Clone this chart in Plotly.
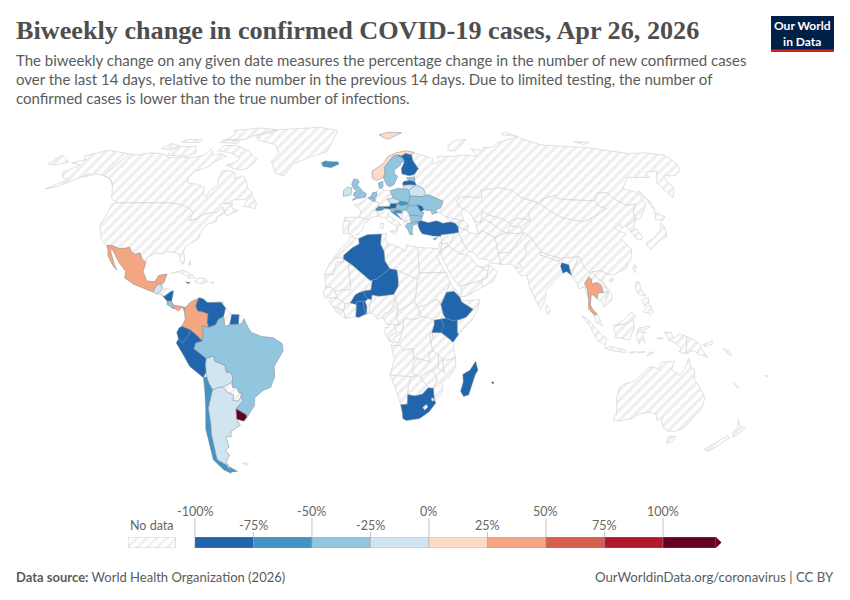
import numpy as np
import plotly.graph_objects as go

# Country outlines as (lon, lat). The topojson that
# plotly's geo traces need is on a CDN, so the map is drawn with filled scatters.
canada = [(-141,69.6),(-135,69),(-128,70),(-120,69.5),(-115,68),(-108,68),(-100,68),(-95,69),(-94,72),(-90,69),(-85,69.5),(-81,68.5),(-86,66),(-87,64),(-93,62),(-94.5,59),(-92.5,57),(-88,56.5),(-82.5,55),(-82,52.8),(-79.5,51.3),(-79,54),(-76.5,56.5),(-78,59),(-78,62.3),(-73,62),(-70,61),(-69.5,58.8),(-65,60),(-62,57.5),(-60,55),(-56,52.5),(-59,50.3),(-65,50.2),(-69,48.5),(-65,49),(-64.5,47),(-61,46),(-64,44.5),(-66,44),(-67,45),(-69,47.3),(-71,45.3),(-75,45),(-79,43.5),(-79,42.8),(-83,42),(-82.5,45),(-84.5,46.5),(-89,48),(-95,49),(-123,49),(-127,51),(-130,54.5),(-133,57),(-137,59),(-141,60)]
usa = [(-123,49),(-95,49),(-89,48),(-84.5,46.5),(-82.5,45),(-83,42),(-79,42.8),(-79,43.5),(-75,45),(-71,45.3),(-69,47.3),(-67,45),(-70,43.5),(-70,41.7),(-74,40.6),(-76,37),(-75.5,35.3),(-78,33.9),(-81,32),(-81.3,30),(-80,26.8),(-80.5,25.2),(-82,26.5),(-83,29),(-85,29.7),(-89,30.2),(-90,29.2),(-94,29.6),(-97.2,27.7),(-97.2,25.9),(-99.5,27.5),(-101,29.7),(-103,29),(-104.7,30),(-106.5,31.8),(-108.2,31.4),(-111,31.3),(-114.8,32.5),(-117.1,32.5),(-120.5,34.5),(-122.4,37.5),(-124.3,40.3),(-124,46),(-124.7,48.4)]
alaska = [(-141,69.6),(-141,60),(-137,59),(-133,57),(-131,55.5),(-135,58.2),(-140,59.8),(-146,60.8),(-151,59.5),(-150,61),(-154,58.5),(-160,55.5),(-165,54.5),(-158,58.5),(-162,59),(-166,61.5),(-161,64.5),(-168,65.6),(-162,67),(-166,68.5),(-156.5,71.2),(-148,70.3)]
baffin = [(-80,73.5),(-72,71.5),(-68,70),(-62,67),(-65,63),(-70,62.5),(-78,64.5),(-73,66),(-73,68),(-80,70),(-89,71),(-88,73.5)]
victoria_isl = [(-117,69),(-105,68.5),(-101,70),(-105,73),(-115,73),(-118,71)]
ellesmere = [(-90,76.5),(-78,76.5),(-75,78.5),(-62,82),(-75,83),(-92,81.5),(-88,79)]
banks_isl = [(-125,72),(-120,71.5),(-116,73.5),(-123,74.5)]
devon_isl = [(-92,75),(-80,74.5),(-80,75.7),(-92,76.5)]
melville_isl = [(-117,75),(-105,75),(-106,76.5),(-116,76.5)]
newfoundland = [(-59,47.7),(-53,46.7),(-53,49),(-56,51.5),(-58,50)]
greenland = [(-73,78.2),(-60,82),(-32,83.5),(-18,81.5),(-20,75),(-22,70.5),(-32,68),(-40,65),(-43,60),(-48,61),(-53,66),(-51,70),(-56,74),(-68,76)]
chukotka_east = [(-180,69),(-170,66),(-175,64.5),(-180,65)]
mexico = [(-117.1,32.5),(-114.8,32.5),(-111,31.3),(-108.2,31.4),(-106.5,31.8),(-104.7,30),(-103,29),(-101,29.7),(-99.5,27.5),(-97.2,25.9),(-97.8,22.5),(-95.5,18.8),(-92,18.6),(-90.5,21),(-87,21.5),(-87.8,18.3),(-89,17.9),(-91,17.2),(-92.2,14.6),(-96,15.8),(-101,17.5),(-105.5,20),(-105.5,22.5),(-109,25.6),(-112.8,30),(-114.7,31.7),(-114.2,30),(-111,25),(-109.5,23),(-112,25),(-115,28.5),(-116,31)]
guatemala = [(-92.2,14.6),(-91,17.2),(-89.2,17.8),(-88.3,15.7),(-89.3,14.4),(-90.5,13.8)]
belize = [(-89.2,17.8),(-88.2,18.4),(-88.3,16),(-89.2,15.9)]
honduras = [(-89.3,14.4),(-88.3,15.7),(-86,15.9),(-83.2,15),(-84.5,14.7),(-87,13),(-87.7,13.3)]
el_salvador = [(-90,13.7),(-89.3,14.4),(-87.7,13.3),(-88,13.2)]
nicaragua = [(-87.7,13),(-87,13),(-84.5,14.7),(-83.2,15),(-83.7,11),(-85.7,11.1)]
costa_rica = [(-85.7,11.1),(-83.7,11),(-82.6,9.5),(-83,8.3),(-85.7,9.9)]
panama = [(-83,8.3),(-82.6,9.5),(-80,9.2),(-77.4,8.7),(-77.9,7.2),(-79,8.8),(-80.4,7.3),(-81.7,8)]
cuba = [(-85,21.8),(-80,23),(-75,20.8),(-74.3,20),(-77.5,19.9),(-78,20.7),(-82,22.4)]
hispaniola = [(-74.4,18.5),(-73,19.9),(-69.9,19.8),(-68.4,18.6),(-71.5,17.7)]
jamaica = [(-78.3,18.4),(-76.3,18.2),(-77,17.8)]
puerto_rico = [(-67.2,18.4),(-65.7,18.3),(-66.5,17.9)]
bahamas = [(-78.2,25),(-77.5,26.7),(-77,25)]
trinidad = [(-61.8,10.7),(-60.9,10.8),(-61,10.1)]
colombia = [(-71.7,12.4),(-72.5,11),(-73,9),(-72,7.3),(-70,7),(-67.5,6.2),(-67.8,2.8),(-67,1),(-70,1.5),(-69.5,-1),(-70,-4.2),(-72,-2.3),(-75,0),(-78.8,1.4),(-77.4,4),(-77.9,7.2),(-77.4,8.7),(-75.5,10.7)]
venezuela = [(-71.7,12.4),(-70,12),(-68,10.6),(-62,10.7),(-60,8.5),(-60.7,5.2),(-63,4),(-64,2),(-67,1),(-67.8,2.8),(-67.5,6.2),(-70,7),(-72,7.3),(-73,9),(-72.5,11)]
guyana = [(-60,8.5),(-57.2,6),(-58,2),(-60,1.3),(-60.7,5.2)]
suriname = [(-57.2,6),(-54,5.9),(-54.2,2.2),(-58,2)]
french_guiana = [(-54,5.9),(-51.7,4.2),(-52.8,2.3),(-54.2,2.2)]
brazil = [(-51.7,4.2),(-50,1),(-48.5,-1),(-44,-2.5),(-39,-3),(-35.2,-5.2),(-34.8,-8),(-37,-11),(-39,-14),(-39,-18),(-41,-22),(-44.5,-23.2),(-48.5,-26),(-49,-29),(-52,-32),(-53.4,-33.7),(-53.4,-32.5),(-57.6,-30.2),(-54,-27.2),(-54.6,-25.6),(-54.3,-24),(-55.5,-24),(-56,-22.2),(-58,-22),(-58,-20),(-57.5,-18),(-58.3,-16.3),(-60.2,-16.3),(-60.5,-13.7),(-65,-12),(-65.3,-10),(-68.5,-11),(-73.8,-7.2),(-72.9,-5),(-70,-4.2),(-69.5,-1),(-70,1.5),(-67,1),(-64,2),(-63,4),(-60.7,5.2),(-60,1.3),(-58,2),(-54.2,2.2),(-52.8,2.3)]
peru = [(-70,-4.2),(-72.9,-5),(-73.8,-7.2),(-68.5,-11),(-69,-13),(-69,-16),(-70.4,-18.3),(-76,-14),(-78.5,-9.5),(-81.3,-5),(-80.3,-3.4),(-78.5,-5),(-75.5,-1.5),(-75,0),(-72,-2.3)]
ecuador = [(-75,0),(-75.5,-1.5),(-78.5,-5),(-80.3,-3.4),(-81,-1),(-80,0.8),(-78.8,1.4)]
bolivia = [(-68.5,-11),(-65.3,-10),(-65,-12),(-60.5,-13.7),(-60.2,-16.3),(-58.3,-16.3),(-57.5,-18),(-58,-20),(-62.5,-22),(-64,-22),(-67,-23),(-68.5,-20),(-69,-18),(-69,-16),(-69,-13)]
paraguay = [(-58,-20),(-58,-22),(-56,-22.2),(-55.5,-24),(-54.3,-24),(-54.6,-25.6),(-56,-27.3),(-58.5,-27),(-57.8,-25),(-60,-24),(-62.5,-22)]
uruguay = [(-57.6,-30.2),(-53.4,-32.5),(-53.4,-33.7),(-55,-35),(-58.2,-34.2)]
chile = [(-70.4,-18.3),(-69,-18),(-68.5,-20),(-67,-23),(-70,-30),(-70.5,-36),(-71.5,-40),(-72,-45),(-73,-50),(-69.5,-52),(-68.5,-54.9),(-69,-55.5),(-72,-54),(-75,-50),(-74,-44),(-73.5,-38),(-71.5,-31),(-70.5,-24)]
argentina = [(-64,-22),(-62.5,-22),(-60,-24),(-57.8,-25),(-58.5,-27),(-56,-27.3),(-54.6,-25.6),(-54,-27.2),(-57.6,-30.2),(-58.2,-34.2),(-57,-36.5),(-62,-39),(-62.5,-41),(-65,-41),(-65,-45),(-67.5,-46.5),(-66,-48),(-69,-51),(-68.5,-52.3),(-69.5,-52),(-73,-50),(-72,-45),(-71.5,-40),(-70.5,-36),(-70,-30),(-67,-23)]
tierra_del_fuego = [(-68.6,-52.7),(-65.2,-54.7),(-68.6,-54.9)]
falklands = [(-61,-51.5),(-58,-51.3),(-59,-52.3)]

morocco = [(-5.9,35.8),(-2,35.1),(-1.7,33),(-5,31.5),(-8.7,28.7),(-8.7,27.7),(-13.2,27.7),(-9.8,31.5),(-6.8,34.2)]
western_sahara = [(-13.2,27.7),(-8.7,27.7),(-8.7,26),(-12,26),(-13,21.3),(-17,21.3),(-16,23.7),(-14.5,26.2)]
algeria = [(-2,35.1),(2,36.6),(8.6,36.9),(8,33),(9.5,30.2),(9.8,26.5),(11.9,23.5),(5.8,19.4),(3.2,19),(-4.8,25),(-8.7,27.3),(-8.7,28.7),(-5,31.5),(-1.7,33)]
tunisia = [(8.6,36.9),(11,37),(10.3,34.5),(11.5,33),(9.5,30.2),(8,33)]
libya = [(11.5,33),(15,32.3),(19.5,30.5),(20,32.7),(25,31.7),(25,20),(24,19.5),(15,23),(11.9,23.5),(9.8,26.5),(9.5,30.2)]
egypt = [(25,31.7),(31,31.5),(34.2,31.3),(34.8,29.5),(33.5,28),(35.5,24),(37,22),(25,22)]
sudan = [(25,22),(37,22),(38.5,18),(36.5,14.3),(34.5,10.5),(32.5,11.8),(27,9.5),(24,8.7),(22.5,11),(23.5,15.5),(24,19.5),(25,20)]
south_sudan = [(24,8.7),(27,9.5),(32.5,11.8),(34,10),(35,6),(34,4.2),(31,3.7),(27.5,5),(25,5)]
eritrea = [(36.5,14.3),(38.5,18),(43,12.7),(40,14.8),(37,14.5)]
ethiopia = [(36.5,14.3),(37,14.5),(40,14.8),(42.5,12.5),(43,11),(42.8,10.9),(48,8),(45,5),(42,4),(39.5,3.5),(36,4.5),(35,6),(34,10),(34.5,10.5)]
somalia = [(43,11),(51.2,11.8),(50,8),(47.5,4),(41.6,-1.7),(41,-1),(41,3.9),(42,4),(45,5),(48,8),(42.8,10.9)]
kenya = [(34,4.2),(36,4.5),(39.5,3.5),(41,3.9),(41,-1),(41.6,-1.7),(39.2,-4.7),(37.7,-3.5),(34,-1),(34,1),(35,1.5)]
uganda = [(31,3.7),(34,4.2),(35,1.5),(34,-1),(30,-1),(31,2)]
tanzania = [(30,-1),(34,-1),(37.7,-3.5),(39.2,-4.7),(39.5,-7),(40.4,-10.5),(37,-11.6),(34.9,-11.5),(33,-9.5),(30.5,-8),(29.5,-5),(30.5,-2.5)]
rwanda_burundi = [(29,-1.4),(30,-1),(30.5,-2.5),(29.5,-5),(29.3,-4.3)]
dr_congo = [(12.3,-6),(13,-4.7),(15.5,-4.5),(17,-1),(17.8,3.5),(18.5,4.5),(22.5,4),(25,5),(27.5,5),(31,3.7),(31,2),(30,-1),(29,-1.4),(29.3,-4.3),(29.5,-5),(30.5,-8),(28.5,-9),(29.5,-12.2),(27.5,-11.8),(24,-11),(22,-11),(21.8,-7),(17.5,-8),(16.5,-6)]
congo = [(11.2,-4),(13,-4.7),(15.5,-4.5),(17,-1),(17.8,3.5),(16,2),(13.5,2.2),(14.5,-1),(11.5,-2.5)]
gabon = [(9.3,-1),(9.8,1),(11.3,1),(11.3,2.3),(13.5,2.2),(14.5,-1),(11.5,-2.5),(11.2,-4)]
cameroon = [(8.5,4.8),(9.8,3),(9.8,2.3),(13.5,2.2),(16,2),(14.5,5),(15,9),(14.2,12.5),(13,9),(11,6.8),(9.5,6.4)]
nigeria = [(2.7,6.4),(4.5,6.3),(6,4.3),(8.5,4.8),(9.5,6.4),(11,6.8),(13,9),(14.2,12.5),(13.5,13.7),(10,13.3),(7,13),(4,13.5),(3.6,11.7),(2.8,9)]
niger = [(0.2,14.9),(3.5,15.4),(4.2,19.2),(5.8,19.4),(11.9,23.5),(15,23),(15.5,20),(15.5,16.9),(13.5,13.7),(10,13.3),(7,13),(4,13.5),(3.6,11.7),(2.2,12),(1,13)]
chad = [(15,23),(24,19.5),(23.5,15.5),(22.5,11),(19,9),(15.5,7.5),(15,9),(14.2,12.5),(13.5,13.7),(15.5,16.9),(15.5,20)]
central_african_rep = [(15.5,7.5),(19,9),(22.5,11),(24,8.7),(25,5),(22.5,4),(18.5,4.5),(16,2),(14.5,5)]
benin = [(1.6,6.2),(2.7,6.4),(2.8,9),(3.6,11.7),(2.2,12),(0.9,11),(1.6,9)]
togo = [(1.2,6.1),(1.6,6.2),(1.6,9),(0.9,11),(0,11),(0.5,8)]
ghana = [(-3.1,5.1),(-2,4.8),(1.2,6.1),(0.5,8),(0,11),(-2.8,11),(-2.8,9.8),(-3.2,6.5)]
burkina_faso = [(-5.5,10.4),(-2.8,9.8),(-2.8,11),(0,11),(0.9,11),(2.2,12),(1,13),(0.2,14.9),(-2,14.2),(-3.5,13.4),(-4.5,12)]
mali = [(-12.2,14.8),(-11.5,12.3),(-8,10.2),(-5.5,10.4),(-4.5,12),(-3.5,13.4),(-2,14.2),(0.2,14.9),(3.5,15.4),(4.2,19.2),(3.2,19),(-4.8,25),(-6.5,25),(-5.5,15.5),(-10,15.4)]
mauritania = [(-17,21.3),(-13,21.3),(-12,26),(-8.7,26),(-8.7,27.3),(-4.8,25),(-6.5,25),(-5.5,15.5),(-10,15.4),(-12.2,14.8),(-14,16.5),(-16.5,16.2)]
senegal = [(-16.5,16.2),(-14,16.5),(-12.2,14.8),(-11.5,12.4),(-16.7,12.4),(-17.5,14.7)]
guinea = [(-15,11),(-13.3,9.1),(-11,8.6),(-10.5,8),(-8,8),(-8,10.2),(-11.5,12.3),(-13.5,12.5)]
sierra_leone = [(-13.3,9.1),(-11,8.6),(-10.5,8),(-11.5,6.9)]
liberia = [(-11.5,6.9),(-10.5,8),(-8.5,7.5),(-7.5,4.4)]
cote_divoire = [(-7.5,4.4),(-8.5,7.5),(-8,8),(-8,10.2),(-5.5,10.4),(-2.8,9.8),(-3.2,6.5),(-3.1,5.1)]
angola = [(12.3,-6),(16.5,-6),(17.5,-8),(21.8,-7),(22,-11),(24,-11),(22,-13),(22,-16.5),(23.4,-17.6),(21,-18),(14,-17.4),(11.8,-17.3),(13.8,-11),(13,-9)]
zambia = [(22,-13),(24,-11),(27.5,-11.8),(29.5,-12.2),(28.5,-9),(30.5,-8),(33,-9.5),(33,-13.5),(30.3,-15.5),(28.5,-16),(25.5,-17.8),(23.4,-17.6),(22,-16.5)]
malawi = [(33,-9.5),(34.9,-11.5),(35.8,-16.5),(33,-14.5),(33,-13.5)]
mozambique = [(40.4,-10.5),(37,-11.6),(34.9,-11.5),(35.8,-16.5),(33,-14.5),(30.3,-15.5),(32.8,-18.5),(31.3,-22.4),(32,-26.8),(32.9,-26.8),(35.5,-24),(35,-20),(39,-17),(40.7,-14)]
zimbabwe = [(25.5,-17.8),(28.5,-16),(30.3,-15.5),(32.8,-18.5),(31.3,-22.4),(29,-22.2),(26,-19)]
botswana = [(20,-22),(21,-18),(23.4,-17.6),(25.5,-17.8),(26,-19),(29,-22.2),(26.5,-24.7),(23,-25.3),(20,-24.8)]
namibia = [(11.8,-17.3),(14,-17.4),(21,-18),(20,-22),(20,-28.5),(17,-28.7),(14.5,-22.5)]
south_africa = [(17,-28.7),(20,-28.5),(20,-24.8),(23,-25.3),(26.5,-24.7),(29,-22.2),(31.3,-22.4),(32,-26.8),(32.8,-28),(30,-31.5),(26,-34),(20,-34.8),(18.3,-34),(18,-32)]
lesotho = [(27.1,-29.7),(28.6,-28.7),(29.3,-29.6),(28,-30.6)]
eswatini = [(31,-26),(32,-26.8),(31.3,-27.3),(30.8,-26.8)]
madagascar = [(49.3,-12),(50.5,-15.5),(49.5,-17),(47.2,-24.9),(45,-25.5),(43.5,-23.5),(44.4,-20),(44,-17),(47,-15.5)]
mauritius = [(57.3,-19.8),(58,-20.2),(57.5,-20.8),(57,-20.2)]

iceland = [(-24,65.5),(-22,66.4),(-18,66),(-14.6,66),(-13.7,65),(-18,63.5),(-22.5,63.9)]
ireland = [(-10,54),(-8.2,55.3),(-6,55),(-6,52.2),(-10,51.6)]
uk = [(-5,58.6),(-3,58.6),(-2,57.5),(-3,56),(-1.5,55),(0,53.5),(1.7,52.7),(1.3,51.2),(-3,50.7),(-5.5,50),(-3.5,51.4),(-5,52),(-4.5,53.2),(-3,53.5),(-5,54.8),(-6,56.5)]
norway = [(5,59),(7.5,58),(10.5,59.2),(12.2,61),(12,63.5),(14,65),(15.5,66.5),(18,68.5),(20.5,69),(23,68.6),(25.7,69.7),(29,69),(31,70.3),(26,71),(20,70),(15,68.5),(12,65.5),(8,63.4),(5,62)]
sweden = [(11,59),(12.7,56),(14.3,55.5),(16.5,56.5),(18.8,59.8),(17.2,61),(17.5,62.5),(21.3,64.5),(22,65.8),(24,66),(23.5,67.8),(20.5,69),(18,68.5),(15.5,66.5),(14,65),(12,63.5),(12.2,61)]
finland = [(23,68.6),(20.5,69),(23.5,67.8),(24,66),(21.5,63),(21.3,60.8),(25,60),(28,60.5),(31,63),(29,66.5),(29,69),(25.7,69.7)]
svalbard = [(11,79),(15,77),(17,76.7),(22,78.5),(27,80),(18,80.3)]
denmark = [(8.1,57),(10.6,57.7),(10.5,55.5),(9.5,54.8),(8.5,54.9)]
estonia = [(23.5,59.2),(28,59.5),(27.5,57.6),(24.5,58)]
latvia = [(21,57),(22,57.7),(24.5,58),(27.5,57.6),(28,56.1),(25,56.3),(21,56)]
lithuania = [(21,56),(25,56.3),(26.7,55.5),(25.5,54),(23.5,54),(21,55.2)]
belarus = [(23.5,53.9),(26.7,55.5),(28,56.1),(31,55),(32,53),(30,51.5),(24,51.7)]
poland = [(14.2,53.9),(18.5,54.8),(23,54.4),(23.5,53.9),(24,51.7),(22.7,49.1),(18.8,49.6),(15,51)]
portugal = [(-9,42),(-6.3,42),(-7,37.2),(-9,37),(-9.5,38.8)]
spain = [(-9,43.3),(-1.8,43.4),(3.2,42.4),(0.5,40.6),(-0.3,38.8),(-2,36.8),(-5.5,36),(-7,37.2),(-6.3,42),(-9,42)]
france = [(-1.8,43.4),(-1,46),(-4.7,48.3),(-1.5,48.7),(2.5,51),(4.2,50),(8.2,49),(7.5,47.5),(6,46.3),(7.5,43.8),(3.2,43.2),(3.2,42.4)]
belgium = [(2.5,51),(4,51.4),(6,50.8),(6,49.5),(4.2,50)]
netherlands = [(4,51.4),(4.8,53),(7,53.4),(7,52),(6,50.8)]
germany = [(7,53.4),(8.5,54.9),(9.5,54.8),(11,54),(14.2,53.9),(15,51),(12.2,50.3),(13.8,48.7),(13,47.5),(7.5,47.5),(8.2,49),(6,49.5),(6,50.8),(7,52)]
switzerland = [(6,46.3),(7.5,47.5),(9.6,47.5),(10.4,46.6),(8.5,46),(7,45.9)]
austria = [(9.6,47.5),(13,47.5),(13.8,48.7),(17,48.8),(16.2,46.9),(13,46.6),(10.4,46.9)]
italy = [(7.5,43.8),(7,45.9),(8.5,46),(10.4,46.6),(13,46.6),(13.7,45.7),(12.3,45),(12.5,44),(16,41.8),(18.5,40),(17,40.5),(16.5,39),(16,38),(15.7,40),(12.5,41.5),(10.5,43)]
sicily = [(12.5,38),(15.5,38.2),(15,36.7)]
sardinia = [(8.3,41),(9.7,41),(9.5,39.1),(8.5,39)]
czechia = [(12.2,50.3),(15,51),(18.8,49.6),(17,48.8),(13.8,48.7)]
slovakia = [(17,48.8),(18.8,49.6),(22.7,49.1),(22.2,48.4),(18.8,47.8)]
hungary = [(16.2,46.9),(17,48.8),(18.8,47.8),(22.2,48.4),(21,46.2),(18.8,45.9)]
slovenia = [(13.7,45.7),(13,46.6),(16.2,46.9),(15.5,45.6)]
croatia = [(13.7,45.4),(15.5,45.6),(16.2,46.4),(18.8,45.9),(19,45),(16,45),(18.5,42.5),(15,44.5)]
bosnia = [(16,45),(19,45),(19,43.5),(18.5,42.5)]
serbia = [(19,45),(18.8,45.9),(21,46.2),(22.5,44.5),(22.8,42.8),(22.5,42.3),(20,42),(18.5,42.5),(19,43.5)]
albania = [(19.5,42),(20,42),(20.9,40.8),(20,39.7),(19.4,40.5)]
north_macedonia = [(20.6,42),(22.5,42.3),(23,41.3),(20.9,40.9)]
greece = [(20,39.7),(20.9,40.8),(23,41.3),(26.3,41.7),(26,40.8),(23.5,40.2),(23,38),(23,36.5),(21.6,36.8),(21.2,38.3)]
bulgaria = [(22.5,44.2),(27,44),(28.5,43.6),(27.7,42),(26.3,41.7),(23,41.3),(22.8,42.8)]
romania = [(21,46.2),(22.2,48),(24.5,47.9),(26.6,48.3),(28.2,45.5),(29.7,45.2),(28.5,43.6),(27,44),(22.5,44.2),(22.5,44.5)]
moldova = [(26.6,48.3),(29,47.9),(30,46.4),(28.2,45.5)]
ukraine = [(22.7,49.1),(24,51.7),(30,51.5),(32,52.2),(34,52),(40,49.6),(38,47),(35,46),(36.5,45.3),(33.5,44.5),(33,46),(30.5,46),(30,46.4),(29,47.9),(26.6,48.3),(24.5,47.9),(22.2,48)]
turkey = [(26,40),(26.3,41.7),(28,42),(31,41.2),(35,42),(38,41),(41.5,41.5),(43.7,41),(44.8,39.7),(44.5,37.5),(42.3,37.2),(38,36.8),(36.2,36.6),(36,36),(32.5,36.1),(30.5,36.5),(27.5,37),(26.5,38.5)]
cyprus = [(32.3,35),(34.5,35.6),(33.5,34.7),(32.7,34.7)]

russia = [(28,60.5),(31,63),(29,66.5),(29,69),(31,70),(41,67.5),(40,65),(44,66),(44,68.5),(54,68.5),(60,69),(68,68.5),(67,72),(73,71),(75,72.5),(80,72.5),(87,75),(104,77.7),(113,73.7),(128,73),(140,72.5),(160,69.7),(170,70),(180,69),(180,65),(177,62.5),(170,60),(163.5,60),(162,57.5),(162,55),(156.5,51),(155.7,57),(163,62),(156,61.5),(155,59.3),(143,59.3),(135,54.7),(141,53),(140,48),(133,43),(130.5,42.5),(131,45),(135,48.5),(130.5,48),(127,50),(125,53),(120,53),(116,49.8),(107,50),(98,50.5),(98,52),(92,50.8),(87.5,49.2),(80,51),(77,54),(71,55),(61,54),(60,51),(50,51.5),(47,50),(47,48),(49,46.5),(47.7,45),(48,42),(45,42.5),(40,43.5),(37,45),(39,47.2),(40,49.6),(34,52),(32,52.2),(32,53),(31,55),(28,56.1),(27.5,57.6),(28,59.5)]
novaya_zemlya = [(52,71),(57,71),(68,76.5),(60,76),(54,73.5)]
severnaya_zemlya = [(95,79),(105,78),(100,80.5)]
new_siberian_isl = [(137,75.5),(146,75),(140,74)]
sakhalin = [(142,54),(143.5,49),(142.5,46),(142,50)]
kazakhstan = [(47,50),(50,51.5),(60,51),(61,54),(71,55),(77,54),(80,51),(87,49),(83,47),(80,45),(80,42.3),(74,43),(69,41.3),(66,43),(61,44),(58,45.5),(56,41.3),(53,42),(52,45),(49,46.5),(47,48)]
uzbekistan = [(56,41.3),(58,45.5),(61,44),(66,43),(69,41.3),(71,41),(67.5,37.3),(65,38),(61,41),(58,42.5)]
turkmenistan = [(53,42),(56,41.3),(58,42.5),(61,41),(65,38),(66.5,37.3),(61,35.5),(56,38),(53.8,37.2)]
kyrgyzstan = [(69.3,40),(71,41),(74,43),(80,42.3),(74,39.5)]
tajikistan = [(67.5,37.3),(69.3,40),(74,39.5),(75,37.3),(71,37)]
afghanistan = [(61,35.5),(66.5,37.3),(71,37),(75,37.3),(71,34),(70,33),(66.5,29.9),(61,29.5),(61,33)]
pakistan = [(61,29.5),(66.5,29.9),(70,33),(71,34),(75,37.3),(77.8,35.5),(74,32.5),(74,29.5),(70,25.5),(71,24.3),(68,23.7),(66.5,25.3),(61.6,25.2)]
iran = [(44.8,39.7),(48,38.5),(50,37.3),(54,36.8),(53.8,37.2),(56,38),(61,35.5),(61,33),(61,29.5),(61.6,25.2),(57,25.8),(56,27),(52,27.5),(50,30),(48,30),(46,33),(44.5,37.5)]
iraq = [(42.3,37.2),(44.5,37.5),(46,33),(48,30),(46,29),(44,29.2),(39,32.2),(41,34.5)]
syria = [(36.2,36.6),(38,36.8),(42.3,37.2),(41,34.5),(38.8,33.4),(36,33),(35.9,35)]
israel_lebanon = [(34.2,31.3),(35.7,34),(36,33),(35.5,31),(34.9,29.5)]
jordan = [(35.5,31),(36,33),(38.8,33.4),(39,32.2),(37,31.5),(38,30),(34.9,29.5)]
saudi_arabia = [(35,29.3),(37,31.5),(39,32.2),(44,29.2),(46,29),(48,28.5),(50,26),(51.5,24.5),(55.5,22.7),(55,20),(52,19),(48,18),(43.2,17),(42.5,16.5),(39,21),(37,25)]
yemen = [(43,12.7),(43.2,16.9),(48,18),(52,19),(53,16.6),(45,13)]
oman = [(52,19),(55,20),(55.5,22.7),(56.3,24.8),(59.8,22.5),(57.8,19),(53,16.6)]
uae = [(51.5,24.5),(54,24.2),(56.3,25.6),(56.3,24.8),(55.5,22.7)]
georgia = [(40,43.5),(45,42.5),(46.5,41.8),(43.7,41),(41.5,41.5)]
azerbaijan = [(45,41.2),(46.5,41.8),(48.5,41.8),(50,40.3),(48.8,38.5),(46,38.9)]
armenia = [(43.7,41),(45,41.2),(46,38.9),(44.8,39.7)]
india = [(68,23.7),(71,24.3),(70,25.5),(74,29.5),(74,32.5),(77.8,35.5),(79,33),(81,30),(80,28.8),(88,26.4),(88.8,27.5),(92,27.7),(97,28.4),(95,25),(93.3,22),(92,23.8),(92,25),(89,25.8),(88.5,21.8),(86,20),(82,16.3),(80.2,15),(80,12),(77.5,8),(76,10.5),(73.5,16),(72.7,21),(70,20.8),(69,22.3)]
bangladesh = [(89,25.8),(92,25),(92,23.8),(92.5,21),(90.5,22.5),(88.8,21.8),(88.2,24.5)]
nepal = [(80,28.8),(81,30),(85,28.5),(88.2,27.8),(88,26.4)]
sri_lanka = [(80,9.7),(81.8,7.5),(80.6,6),(79.8,7.5)]
china = [(74,39.5),(80,42.3),(80,45),(83,47),(87,49),(87.5,49.2),(91,46),(96,43),(105,41.7),(111.5,43.7),(119.5,46.7),(116,47.8),(116,49.8),(120,53),(125,53),(127,50),(130.5,48),(135,48.5),(131,45),(130.5,42.5),(128,41.5),(124.3,40),(121.5,39),(122,40.8),(118,39),(122.5,37),(119,35),(122,31),(121,28),(117,23.5),(113,22),(110.5,21),(108,21.6),(106,22.8),(102,22.4),(101.3,21.2),(98.7,24),(97.5,28.2),(92,27.9),(88.8,27.5),(88.2,27.8),(85,28.5),(81,30),(79,33),(77.8,35.5),(75,37.3)]
hainan = [(108.7,19.2),(110.5,20),(111,19.6),(109.6,18.2)]
taiwan = [(121.5,25.2),(122,24.5),(120.9,22),(120.1,23.5)]
mongolia = [(87.5,49.2),(92,50.8),(98,52),(98,50.5),(107,50),(116,49.8),(116,47.8),(119.5,46.7),(111.5,43.7),(105,41.7),(96,43),(91,46)]
north_korea = [(124.3,40),(128,41.5),(130.5,42.5),(127.5,39.8),(128.3,38.6),(125,37.8)]
south_korea = [(125,37.8),(128.3,38.6),(129.4,36),(128.5,34.8),(126.3,34.6)]
honshu = [(130,33.5),(135,35.6),(137,37),(139.5,38.5),(141.3,41.3),(142,39.5),(140.8,36),(137,34.6),(135,33.5),(131,31),(130,32)]
hokkaido = [(140,42.5),(141.8,45.4),(145.3,43.5),(143,42)]
myanmar = [(92.3,20.8),(93.3,22),(95,25),(97,28.4),(97.5,28.2),(98.7,24),(101.2,21.5),(100,20.4),(97.8,18),(98.7,15.5),(98.8,11.7),(97.5,16.5),(95,15.8),(94.3,18.5)]
thailand = [(97.8,18),(100,20.4),(101,19.5),(101,17.6),(103,18.2),(104.8,17.4),(105.5,14.4),(103,14.3),(102.5,12),(100.8,13.5),(100,13.4),(99.3,9.7),(100.5,7.5),(102,6.2),(100.8,5.7),(98.3,8.2),(98.8,11.7),(98.7,15.5)]
laos = [(100,20.4),(101.2,21.5),(102,22.4),(103,20.7),(105,19),(107.5,15.2),(105.5,14.4),(104.8,17.4),(103,18.2),(101,17.6),(101,19.5)]
vietnam = [(102,22.4),(106,22.8),(108,21.6),(105.7,19),(109,14),(109,11.5),(105,8.7),(104.8,10.5),(107.5,13),(107.5,15.2),(105,19),(103,20.7)]
cambodia = [(102.5,12),(103,14.3),(105.5,14.4),(107.5,14.5),(106,11),(104.8,10.5)]
malaya = [(100.8,5.7),(102,6.2),(103.4,3.5),(104.2,1.4),(101.3,3)]
kalimantan = [(109,1.5),(110,1.7),(115,2.5),(117.5,4.2),(118,1),(116,-3.7),(114,-3.5),(110,-2.8)]
sabah_sarawak = [(110,1.7),(115,5),(116.7,7),(119,5.2),(117.5,4.2),(115,2.5),(109.7,2)]
sumatra = [(95.3,5.6),(98,4),(104,-2),(106,-3),(105.5,-5.8),(102,-4),(98.7,1.5)]
java = [(105.2,-6.8),(108,-6.3),(114.5,-7.8),(114.4,-8.7),(108,-7.8)]
sulawesi = [(119.5,0),(120,0.8),(125,1.5),(121,-0.9),(123,-1),(121.5,-2),(123,-5),(121,-3.5),(120.4,-5.5),(119.5,-4),(119,-2.5)]
timor = [(124,-10),(127,-8.5),(125,-8.6)]
flores = [(119.5,-8.5),(123,-8.3),(120,-8.9)]
sumbawa = [(116,-8.5),(119,-8.3),(117,-9)]
seram = [(128,-3),(130.8,-3.2),(128.5,-3.5)]
luzon = [(120.5,18.5),(122.2,18.3),(122,16),(124,13),(120.6,13.8),(120,16)]
visayas = [(122,11.5),(125,12.5),(125,10.3),(123,9.2)]
mindanao = [(122,7),(123.5,8.5),(125.5,9.7),(126.5,7),(125.4,5.7),(124,6.5)]
west_papua = [(131,-0.9),(134,-0.8),(135,-3.3),(137.8,-1.5),(141,-2.6),(141,-9.1),(138,-8.3),(138.5,-6.9),(135,-4.4),(133,-4),(132.8,-2.8)]
papua_new_guinea = [(141,-2.6),(145,-4.3),(147.5,-6),(147,-6.8),(150.8,-10.5),(147,-9.5),(144,-7.8),(141,-9.1)]
new_britain = [(148.3,-5.6),(152,-4.2),(152,-5.5),(149,-6.3)]
solomon_isl = [(157,-7),(160,-8.5),(161,-10),(158,-8.2)]
new_caledonia = [(164,-20),(167,-22.2),(166.5,-22.3)]
fiji = [(177.3,-17.5),(178.7,-17.6),(178,-18.2)]
australia = [(114,-22),(116.5,-20.5),(120,-19.8),(122.5,-17),(125,-14.5),(127,-14),(129.5,-15),(130.8,-12.3),(134,-12),(136.5,-12),(135.5,-15),(139.5,-17.5),(141,-15.5),(142.5,-10.8),(143.7,-14.2),(145.5,-15),(146.5,-19),(150,-22.5),(153.2,-26),(153.5,-30),(150.5,-36),(150,-37.5),(146.3,-39),(143,-38.8),(140,-37.5),(138,-35.5),(137.5,-33.5),(135.5,-34.8),(134,-32.5),(131,-31.5),(126,-32.3),(123.5,-34),(118,-35),(115,-34.3),(115.7,-32),(113.7,-26)]
tasmania = [(144.7,-40.8),(148.3,-40.9),(148,-43),(146,-43.6)]
nz_north = [(172.7,-34.5),(175.5,-37),(178.5,-37.8),(176,-41.3),(173.8,-39.3),(174.8,-37.5)]
nz_south = [(172.7,-40.6),(174.3,-41.7),(171,-45),(169,-46.6),(166.5,-46),(170,-43)]

# Countries with no data (hatched)
no_data_shapes = [canada, usa, alaska, baffin, victoria_isl, ellesmere, banks_isl, devon_isl, melville_isl, newfoundland, greenland, chukotka_east,
                  belize, honduras, el_salvador, cuba, hispaniola, puerto_rico, bahamas, trinidad, guyana, french_guiana, paraguay, falklands,
                  morocco, western_sahara, tunisia, libya, egypt, sudan, south_sudan, eritrea, somalia, tanzania, rwanda_burundi, dr_congo, congo, gabon,
                  cameroon, nigeria, chad, central_african_rep, benin, mali, mauritania, senegal, guinea, sierra_leone, liberia, cote_divoire,
                  angola, zambia, malawi, mozambique, zimbabwe, botswana, namibia,
                  portugal, spain, france, germany, italy, sicily, sardinia, bosnia, serbia, albania, north_macedonia,
                  russia, novaya_zemlya, severnaya_zemlya, new_siberian_isl, sakhalin, kazakhstan, uzbekistan, turkmenistan, kyrgyzstan, tajikistan,
                  afghanistan, pakistan, iran, iraq, syria, israel_lebanon, jordan, saudi_arabia, yemen, oman, uae, georgia, azerbaijan, armenia,
                  india, nepal, sri_lanka, china, hainan, taiwan, mongolia, north_korea, south_korea, honshu, hokkaido, myanmar, laos, vietnam, cambodia,
                  malaya, kalimantan, sabah_sarawak, sumatra, java, sulawesi, timor, flores, sumbawa, seram, luzon, visayas, mindanao,
                  west_papua, papua_new_guinea, new_britain, solomon_isl, new_caledonia, fiji, australia, tasmania, nz_north, nz_south]

# No-data enclaves sit inside South Africa, so they go on top of it
enclave_shapes = [lesotho, eswatini]

data_shapes = [mexico, guatemala, nicaragua, costa_rica, panama, jamaica, colombia, venezuela, suriname, brazil, peru, ecuador, bolivia, uruguay, chile, argentina, tierra_del_fuego,
               algeria, ethiopia, kenya, uganda, niger, togo, ghana, burkina_faso, south_africa, madagascar, mauritius,
               iceland, ireland, uk, norway, svalbard, sweden, finland, denmark, estonia, latvia, lithuania, belarus, poland, belgium, netherlands,
               switzerland, austria, czechia, slovakia, hungary, slovenia, croatia, greece, bulgaria, romania, moldova, ukraine, turkey, cyprus, bangladesh, thailand]
data_changes = [35, -15, -85, -35, 35, -85, 35, -85, -85, -35, -85, -85, -15, 130, -60, -15, -60,
                -85, -85, -85, -85, -85, -85, -85, -85, -85, -85, -85,
                -60, -15, -35, 12, 12, -35, -85, -35, -35, -85, -15, -15, -35, -35, -35,
                -60, -85, -15, -60, -35, -35, -60, -35, -35, -35, -85, -35, -85, -35, -85, 35]

# Colour legend
bin_edges = [-100, -75, -50, -25, 0, 25, 50, 75, 100]
bin_colors = ["#2166ac", "#4393c3", "#92c5de", "#d1e5f0", "#fddbc7", "#f4a582", "#d6604d", "#b2182b", "#67001f"]
tick_labels = ["-100%", "-75%", "-50%", "-25%", "0%", "25%", "50%", "75%", "100%"]
legend_end = 122.6
legend_tip = 125
no_data_span = [-128.6, -108.4]

title = "Biweekly change in confirmed COVID-19 cases, Apr 26, 2026"
subtitle = ["The biweekly change on any given date measures the percentage change in the number of new confirmed cases",
            "over the last 14 days, relative to the number in the previous 14 days. Due to limited testing, the number of",
            "confirmed cases is lower than the true number of infections."]

W, H = 850, 600

# Robinson projection table, every 5 degrees of latitude
rob_lat = np.arange(0, 95, 5)
rob_x = [1, .9986, .9954, .99, .9822, .973, .96, .9427, .9216, .8962, .8679, .835, .7986, .7597, .7186, .6732, .6213, .5722, .5322]
rob_y = [0, .062, .124, .186, .248, .31, .372, .434, .4958, .5571, .6176, .6769, .7346, .7903, .8435, .8936, .9394, .9761, 1]


def project(shape):
    lon = np.array([p[0] for p in shape], dtype=float)
    lat = np.array([p[1] for p in shape], dtype=float)
    xs = np.interp(np.abs(lat), rob_lat, rob_x)
    ys = np.interp(np.abs(lat), rob_lat, rob_y) * np.sign(lat)
    return list(363 + 2.3 * lon * xs) + [363 + 2.3 * lon[0] * xs[0]], list(330 - 210 * ys) + [330 - 210 * ys[0]]


def change_color(value):
    return bin_colors[int(np.digitize(value, bin_edges[1:-1] + [100]))]


def text(px, py, s, size=14, color="#5b5b5b", anchor="left", font="Lato"):
    shift = {"left": -2, "right": 3, "center": 0}[anchor]
    fig.add_annotation(x=px / W, y=1 - py / H, xref="paper", yref="paper", text=s, showarrow=False,
                       xanchor=anchor, yanchor="middle", xshift=shift, font=dict(size=size, color=color, family=font))


def add_no_data(shape):
    xs, ys = project(shape)
    fig.add_trace(go.Scatter(x=xs, y=ys, mode="lines", fill="toself", line=dict(color="#d8d8d8", width=0.8),
                             fillpattern=dict(shape="/", fgcolor="#dedede", bgcolor="white", size=7, solidity=0.45),
                             hoverinfo="skip", showlegend=False))


fig = go.Figure()

for shape in no_data_shapes:
    add_no_data(shape)

for shape, change in zip(data_shapes, data_changes):
    xs, ys = project(shape)
    fig.add_trace(go.Scatter(x=xs, y=ys, mode="lines", fill="toself", fillcolor=change_color(change),
                             line=dict(color="#7d8b96", width=0.5), text=str(change) + "%", hoverinfo="text", showlegend=False))

for shape in enclave_shapes:
    add_no_data(shape)

# Legend bins on their own small axis
legend_lo = bin_edges
legend_hi = bin_edges[1:] + [legend_end]
fig.add_trace(go.Bar(y=[0] * len(bin_colors), x=[b - a for a, b in zip(legend_lo, legend_hi)], base=legend_lo, orientation="h", width=1,
                     marker=dict(color=bin_colors, line=dict(color="#999999", width=0.4)), xaxis="x2", yaxis="y2", showlegend=False, hoverinfo="skip"))
fig.add_trace(go.Bar(y=[0], x=[no_data_span[1] - no_data_span[0]], base=[no_data_span[0]], orientation="h", width=1,
                     marker=dict(color="white", line=dict(color="#bbbbbb", width=0.6), pattern=dict(shape="/", fgcolor="#dddddd", bgcolor="white", size=7, solidity=0.35)),
                     xaxis="x2", yaxis="y2", showlegend=False, hoverinfo="skip"))
fig.add_trace(go.Scatter(x=[legend_end, legend_tip, legend_end, legend_end], y=[0.5, 0, -0.5, 0.5], mode="lines", fill="toself", fillcolor=bin_colors[-1],
                         line=dict(color=bin_colors[-1], width=0), xaxis="x2", yaxis="y2", showlegend=False, hoverinfo="skip"))

LEG_TOP = 537
for i, (edge, label) in enumerate(zip(bin_edges, tick_labels)):
    label_y = 511 if i % 2 == 0 else 525
    fig.add_shape(type="line", xref="x2", yref="paper", x0=edge, x1=edge, y0=1 - (label_y + 7) / H, y1=1 - LEG_TOP / H, line=dict(color="#a8a8a8", width=0.7))
    fig.add_annotation(x=edge, xref="x2", y=1 - label_y / H, yref="paper", text=label, showarrow=False, yanchor="middle",
                       font=dict(size=12.5, color="#666666", family="Lato"))
fig.add_annotation(x=(no_data_span[0] + no_data_span[1]) / 2, xref="x2", y=1 - 525 / H, yref="paper", text="No data", showarrow=False, yanchor="middle",
                   font=dict(size=12.5, color="#666666", family="Lato"))

# Header and footer
text(16, 31, "<b>" + title + "</b>", size=26.2, color="#4e4e4e", font="Liberation Serif")
for i, line in enumerate(subtitle):
    text(16, 60 + i * 19, line, size=15, color="#5b5b5b")
text(16, 577, "<b>Data source:</b> World Health Organization (2026)", size=13, color="#5b5b5b")
text(833, 577, "OurWorldinData.org/coronavirus | CC BY", size=13.2, color="#5b5b5b", anchor="right")

# Logo
fig.add_shape(type="rect", xref="paper", yref="paper", x0=771 / W, x1=834 / W, y0=1 - 52 / H, y1=1 - 16 / H, fillcolor="#002147", line_width=0)
fig.add_shape(type="rect", xref="paper", yref="paper", x0=771 / W, x1=834 / W, y0=1 - 52 / H, y1=1 - 49.5 / H, fillcolor="#ce261e", line_width=0)
text(802.5, 33, "<b>Our World<br>in Data</b>", size=12, color="white", anchor="center")

fig.update_layout(
    width=W, height=H, autosize=False, margin=dict(l=0, r=0, t=0, b=0), paper_bgcolor="white", plot_bgcolor="white",
    barmode="overlay", hovermode="closest",
    xaxis=dict(range=[0, W], domain=[0, 1], visible=False, fixedrange=True),
    yaxis=dict(range=[H, 0], domain=[0, 1], visible=False, fixedrange=True),
    xaxis2=dict(range=[no_data_span[0], legend_tip], domain=[128 / W, 721.5 / W], visible=False, anchor="y2", fixedrange=True),
    yaxis2=dict(range=[-0.5, 0.5], domain=[1 - 548 / H, 1 - LEG_TOP / H], visible=False, anchor="x2", fixedrange=True),
)

# the page's default body margin would push the figure 8px off
fig.write_html("out.html", config={"displayModeBar": False}, post_script="document.body.style.margin = '0';")
